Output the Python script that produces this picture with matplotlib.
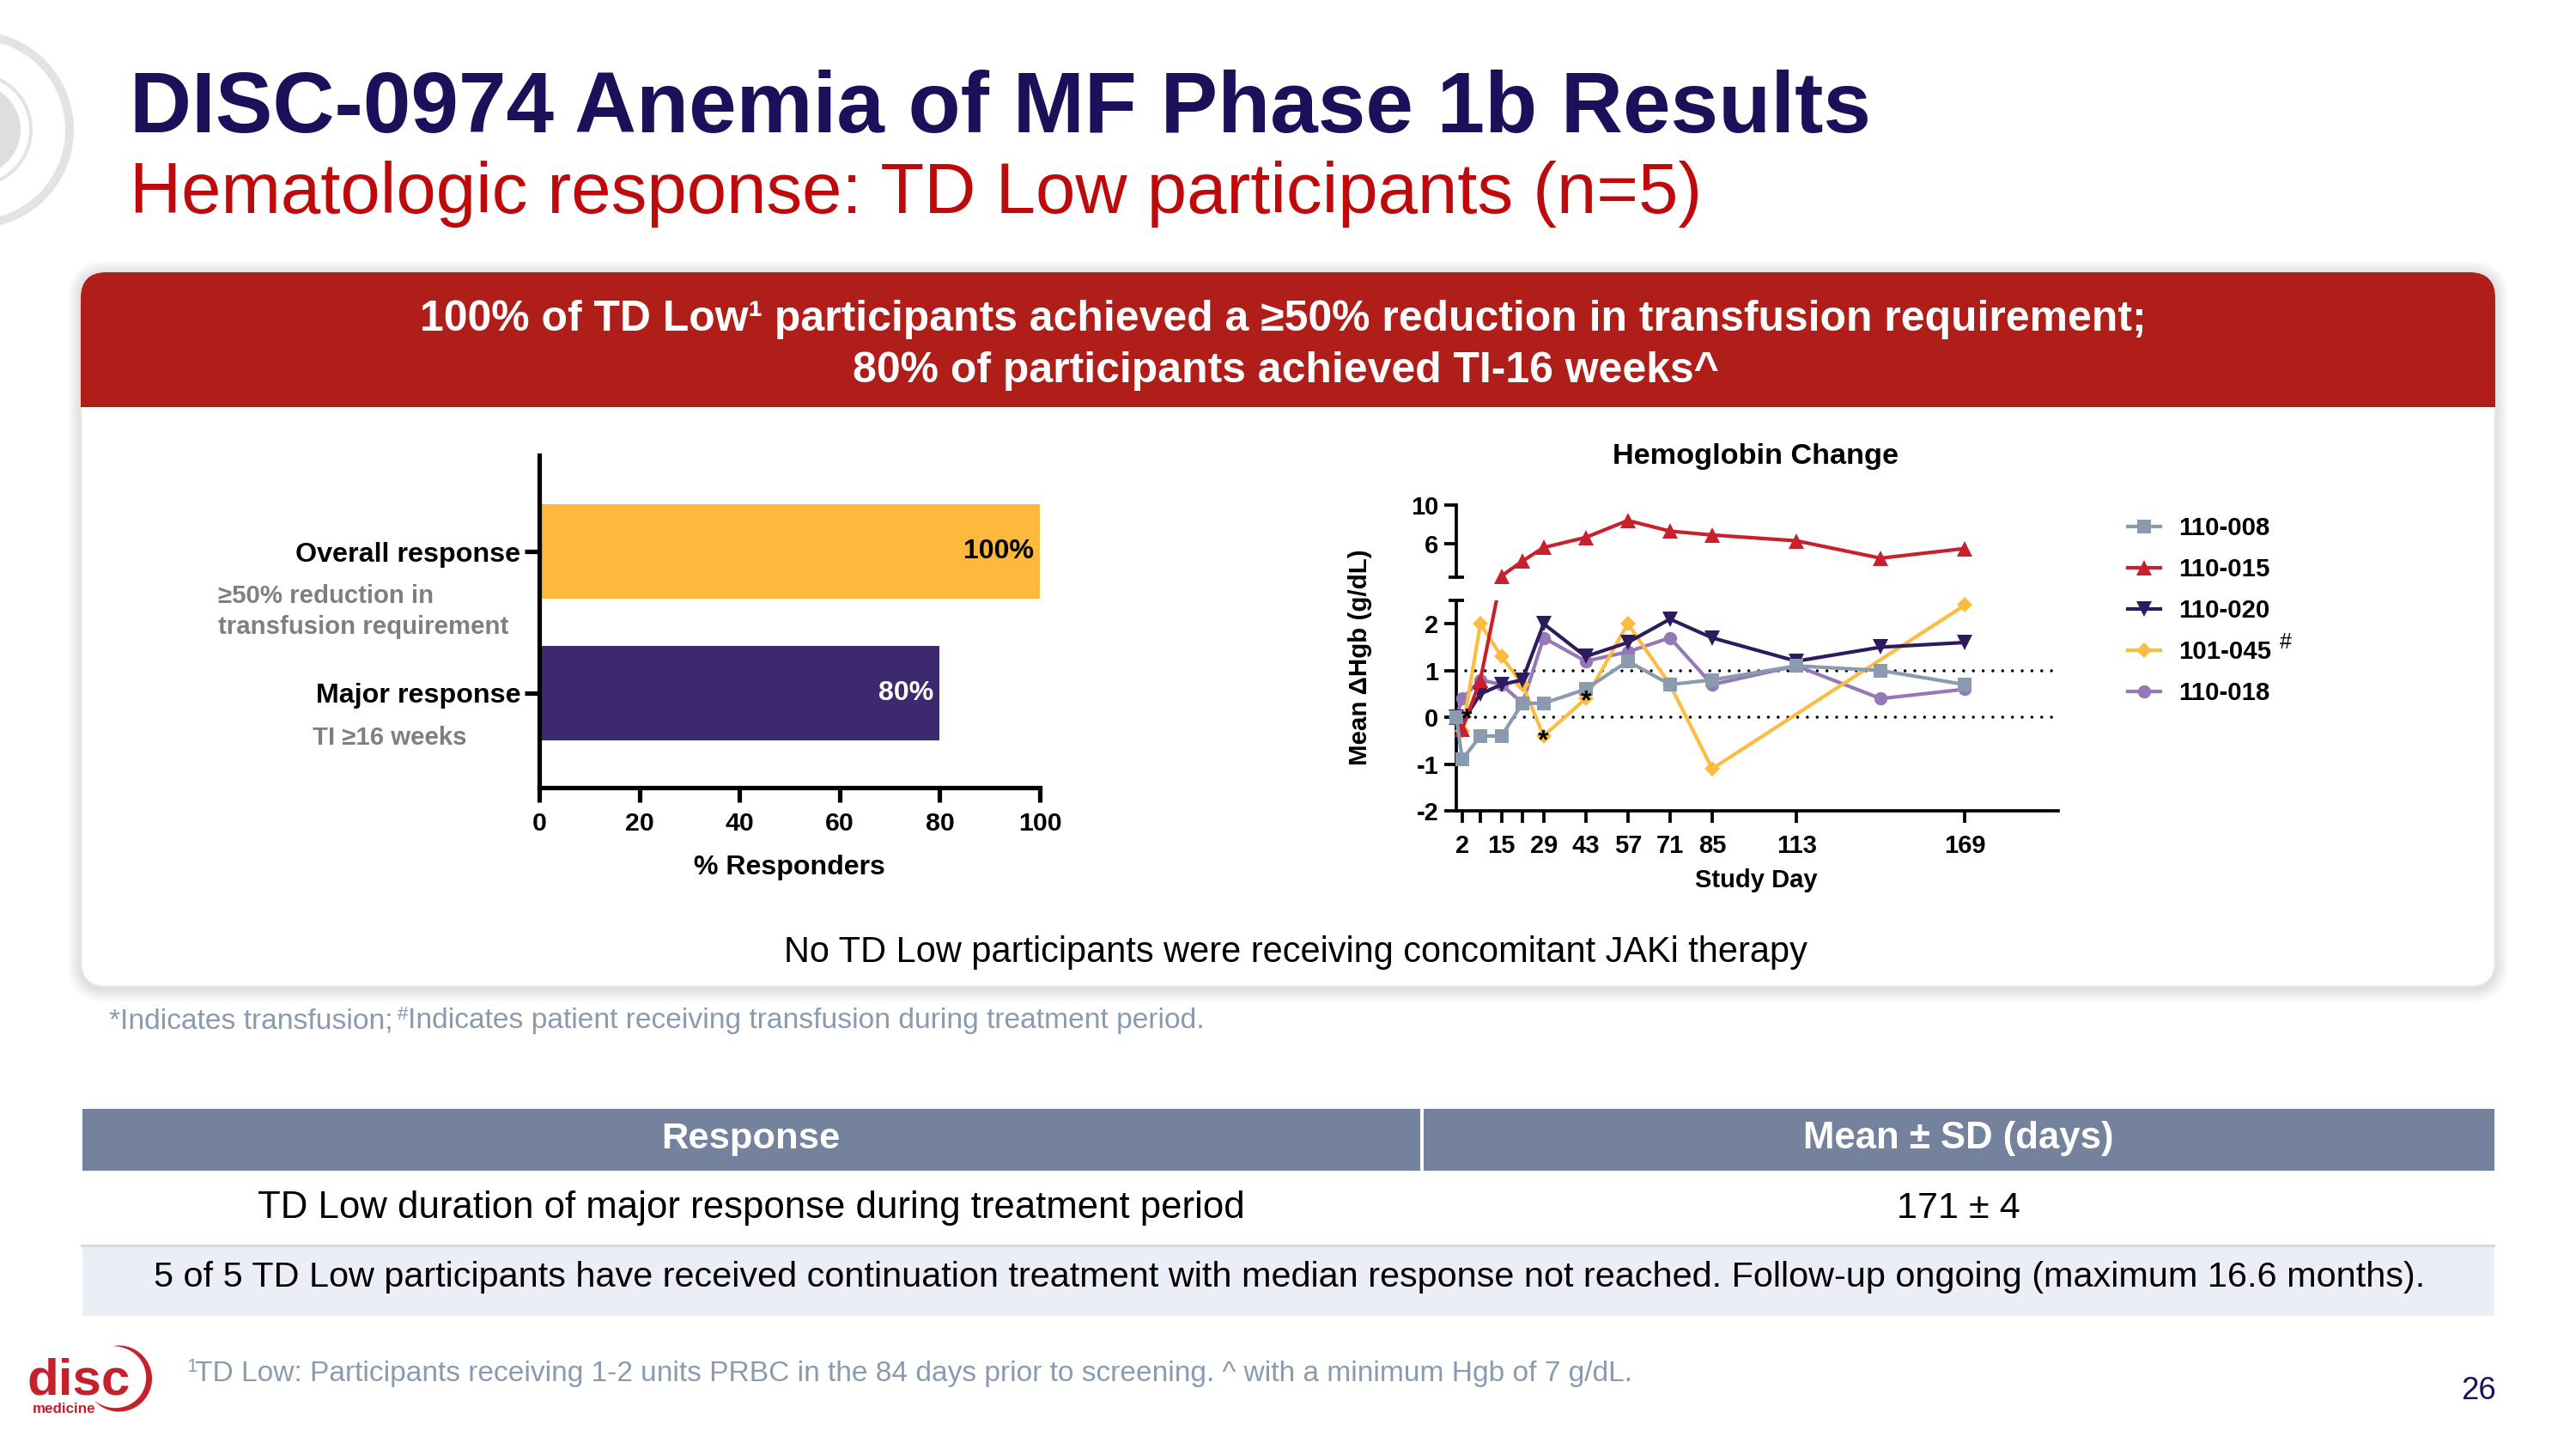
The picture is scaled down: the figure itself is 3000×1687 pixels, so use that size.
import numpy as np
import matplotlib
matplotlib.use("Agg")
import matplotlib.pyplot as plt
from matplotlib.patches import FancyBboxPatch, Rectangle, Circle, Polygon
from matplotlib.lines import Line2D

plt.rcParams['font.family'] = ['Liberation Sans', 'DejaVu Sans']

# ---------- data ----------
bar_categories = ["Overall response", "Major response"]
bar_values = [100, 80]
bar_labels = ["100%", "80%"]
bar_ticks = [0, 20, 40, 60, 80, 100]

day_ticks = [2, 8, 15, 22, 29, 43, 57, 71, 85, 113, 169]
day_tick_labels = ["2", "", "15", "", "29", "43", "57", "71", "85", "113", "169"]
all_days = [0, 2, 8, 15, 22, 29, 43, 57, 71, 85, 113, 141, 169]

hgb_008 = [0, -0.9, -0.4, -0.4, 0.3, 0.3, 0.6, 1.2, 0.7, 0.8, 1.1, 1.0, 0.7]
hgb_020 = [0, -0.1, 0.5, 0.7, 0.8, 2.0, 1.3, 1.6, 2.1, 1.7, 1.2, 1.5, 1.6]
hgb_018 = [0, 0.4, 0.8, 0.7, 0.3, 1.7, 1.2, 1.4, 1.7, 0.7, 1.1, 0.4, 0.6]
days_045 = [0, 2, 8, 15, 22, 29, 43, 57, 71, 85, 169]
hgb_045 = [0, -0.3, 2.0, 1.3, 0.7, -0.4, 0.4, 2.0, 0.7, -1.1, 2.4]
days_015_low = [0, 2, 8]
hgb_015_low = [0, -0.25, 0.8]
days_015_high = [15, 22, 29, 43, 57, 71, 85, 113, 141, 169]
hgb_015_high = [2.65, 4.2, 5.6, 6.65, 8.4, 7.3, 6.9, 6.3, 4.5, 5.5]
transfusion_days = [3.5, 29, 43]
transfusion_values = [0.05, -0.4, 0.45]

# ---------- colours ----------
GRAY, RED, NAVY, YEL, PUR = '#8A9BB0', '#C8202C', '#2E1A5E', '#FDBB3F', '#9678B6'

W, H = 3000, 1687
fig = plt.figure(figsize=(W / 300, H / 300), dpi=300, facecolor='white')


def px_axes(x0, y0, x1, y1, **kw):
    return fig.add_axes([x0 / W, 1 - y1 / H, (x1 - x0) / W, (y1 - y0) / H], **kw)


# ---------- slide background, in pixel coordinates ----------
bg = fig.add_axes([0, 0, 1, 1], zorder=0)
bg.set_xlim(0, W)
bg.set_ylim(H, 0)
bg.axis('off')


def T(x, y, s, size, color='black', weight='normal', ha='left', va='baseline', **kw):
    return bg.text(x, y, s, fontsize=size, color=color, fontweight=weight, ha=ha, va=va, **kw)


# corner rings
for r, w in ((110, 10), (65, 4)):
    bg.add_patch(Circle((-29, 151), r, fc='none', ec='#E3E3E3', lw=w * 0.24))
bg.add_patch(Circle((-29, 151), 53, fc='#DEDEDE', ec='none'))

T(151, 154, "DISC-0974 Anemia of MF Phase 1b Results", 23.99, '#1E0F5A', 'bold')
T(151, 248, "Hematologic response: TD Low participants (n=5)", 20.0, '#BE0A0A')

# card with soft shadow
cx0, cx1, cy0, cy1 = 94, 2906, 317, 1149
for i in range(16, 0, -1):
    bg.add_patch(FancyBboxPatch((cx0 - i, cy0 - i + 2), cx1 - cx0 + 2 * i, cy1 - cy0 + 2 * i,
                                boxstyle=f"round,pad=0,rounding_size={30 + i}",
                                fc='black', ec='none', alpha=0.009))
bg.add_patch(FancyBboxPatch((cx0, cy0), cx1 - cx0, cy1 - cy0,
                            boxstyle="round,pad=0,rounding_size=30", fc='white', ec='#E6E6E6', lw=0.6))
banner = FancyBboxPatch((cx0, cy0), cx1 - cx0, 300,
                        boxstyle="round,pad=0,rounding_size=30", fc='#B01E19', ec='none')
bg.add_patch(banner)
banner.set_clip_path(Rectangle((cx0 - 5, cy0 - 5), cx1 - cx0 + 10, 474 - cy0 + 5, transform=bg.transData))

T(1494, 385, "100% of TD Low¹ participants achieved a ≥50% reduction in transfusion requirement;", 11.98,
  'white', 'bold', ha='center')
T(1497, 445, "80% of participants achieved TI-16 weeks^", 11.98, 'white', 'bold', ha='center')

T(1509, 1120, "No TD Low participants were receiving concomitant JAKi therapy", 9.97, ha='center')

FOOT = '#8A9BB0'
T(126, 1197, "*", 8.08, FOOT)
T(140, 1197, "Indicates transfusion;", 8.08, FOOT)
T(463, 1187, "#", 5.4, FOOT)
T(475, 1197, "Indicates patient receiving transfusion during treatment period.", 8.08, FOOT)

# table
bg.add_patch(Rectangle((96, 1291), 2905 - 96, 72, fc='#75829E', ec='none'))
bg.add_patch(Rectangle((1654, 1291), 4, 72, fc='white', ec='none'))
bg.add_patch(Rectangle((96, 1451), 2905 - 96, 81, fc='#EBEEF6', ec='none'))
bg.add_patch(Rectangle((94, 1449), 2906 - 94, 3, fc='#D9D9D9', ec='none'))
T(874, 1337, "Response", 10.45, 'white', 'bold', ha='center')
T(2281, 1337, "Mean ± SD (days)", 10.5, 'white', 'bold', ha='center')
T(875, 1418, "TD Low duration of major response during treatment period", 10.5, ha='center')
T(2281, 1418, "171 ± 4", 10.4, ha='center')
T(1502, 1498, "5 of 5 TD Low participants have received continuation treatment with median response not reached. "
              "Follow-up ongoing (maximum 16.6 months).", 9.93, ha='center')

# footer
T(217, 1597, "1", 5.4, FOOT)
T(227, 1608, "TD Low: Participants receiving 1-2 units PRBC in the 84 days prior to screening. ^ with a minimum Hgb of 7 g/dL.",
  8.04, FOOT)
T(2907, 1629, "26", 8.8, '#1E0F5A', ha='right')

# logo
LOGO = '#C4212D'
T(32, 1623, "disc", 14.4, LOGO, 'bold')
T(38, 1645, "medicine", 4.1, LOGO, 'bold')
th = np.radians(np.linspace(100, -137, 80))
taper = np.sin(np.linspace(0, np.pi, 80)) ** 0.8
outer = np.c_[138.5 + 38.5 * np.cos(th), 1605 - 38.5 * np.sin(th)]
inner = np.c_[138.5 + (38.5 - 7 * taper) * np.cos(th), 1605 - (38.5 - 7 * taper) * np.sin(th)]
bg.add_patch(Polygon(np.r_[outer, inner[::-1]], closed=True, fc=LOGO, ec='none'))

# ---------- bar chart ----------
ax = px_axes(628, 530, 1211, 917, zorder=2)
ax.patch.set_alpha(0)
ypos = [1, 0]
ax.barh(ypos, bar_values, height=0.665, color=['#FDB93C', '#3D2A6E'], zorder=1)
ax.set_xlim(0, 100)
ax.set_ylim(-0.667, 1.679)
for s in ('top', 'right'):
    ax.spines[s].set_visible(False)
for s in ('left', 'bottom'):
    ax.spines[s].set_linewidth(1.25)
    ax.spines[s].set_zorder(5)
ax.set_xticks(bar_ticks)
ax.set_yticks(ypos)
ax.set_yticklabels(bar_categories, fontweight='bold', fontsize=7.75)
ax.set_xticklabels([str(t) for t in bar_ticks], fontweight='bold', fontsize=7.3)
ax.tick_params(axis='both', width=1.25, length=4)
ax.tick_params(axis='y', pad=1.2)
ax.tick_params(axis='x', pad=2.8)
ax.set_xlabel("% Responders", fontweight='bold', fontsize=7.73, labelpad=5.2)
for v, lab, y, c in zip(bar_values, bar_labels, ypos, ['black', 'white']):
    ax.annotate(lab, (v, y), xytext=(-1.7, 0), textcoords='offset points', ha='right', va='center',
                fontsize=7.7, fontweight='bold', color=c)
SUB = '#7F7F7F'
T(254, 702, "≥50% reduction in", 7.05, SUB, 'bold')
T(254, 738, "transfusion requirement", 7.05, SUB, 'bold')
T(454, 867, "TI ≥16 weeks", 7.05, SUB, 'bold', ha='center')

# ---------- hemoglobin chart: broken y axis ----------
low = px_axes(1696, 699, 2397, 944, zorder=3)
up = px_axes(1696, 588, 2397, 672, zorder=3)
for a in (low, up):
    a.patch.set_alpha(0)
    a.set_xlim(0, 200)
    for s in ('top', 'right'):
        a.spines[s].set_visible(False)
    a.spines['left'].set_linewidth(0.9)
    a.spines['bottom'].set_linewidth(0.9)
    a.tick_params(axis='both', width=0.9, length=3.4, labelsize=7.0, pad=1.5)
low.set_ylim(-2, 2.5)
up.set_ylim(2.53, 10)
up.spines['bottom'].set_visible(False)
up.set_xticks([])
up.set_yticks([6, 10])
up.set_yticklabels(['6', '10'], fontweight='bold')
low.set_yticks([-2, -1, 0, 1, 2])
low.set_yticklabels(['-2', '-1', '0', '1', '2'], fontweight='bold')
low.set_xticks(day_ticks)
low.set_xticklabels(day_tick_labels, fontweight='bold')
low.tick_params(axis='x', pad=3.0)
# two-sided end caps where the axis is broken
low.plot([-2.5, 2.5], [2.5, 2.5], color='black', lw=0.9, clip_on=False, solid_capstyle='butt')
up.plot([-2.5, 2.5], [2.53, 2.53], color='black', lw=0.9, clip_on=False, solid_capstyle='butt')

for y0 in (0, 1):
    low.plot([3, 198.5], [y0, y0], color='black', lw=0.85, ls=(0, (0.01, 3.2)),
             dash_capstyle='round', zorder=2, clip_on=False)

LW = 1.0
style = dict(lw=LW, clip_on=False)
ln_pur, = low.plot(all_days, hgb_018, color=PUR, marker='o', ms=3.7, mec='none', zorder=3, **style)
ln_yel, = low.plot(days_045, hgb_045, color=YEL, marker='D', ms=3.0, mec='none', zorder=3.1, **style)
ln_nav, = low.plot(all_days, hgb_020, color=NAVY, marker='v', ms=4.2, mec='none', zorder=3.2, **style)
# red series crosses the break as a straight line: the day-15 point is mapped to the lower panel
p = up.transData.transform((days_015_high[0], hgb_015_high[0]))
d15, v15 = low.transData.inverted().transform(p)
ln_red_low, = low.plot(days_015_low + [d15], hgb_015_low + [v15], color=RED, marker='^', ms=4.2, mec='none',
                       markevery=[0, 1, 2], zorder=3.3, lw=LW)
ln_red_low.set_clip_path(Rectangle((-0.1, 0), 1.2, 1, transform=low.transAxes))
ln_red, = up.plot(days_015_high, hgb_015_high, color=RED, marker='^', ms=4.2, mec='none', zorder=3.3, **style)
ln_gra, = low.plot(all_days, hgb_008, color=GRAY, marker='s', ms=3.9, mec='none', zorder=3.4, **style)

for d, v in zip(transfusion_days, transfusion_values):
    low.annotate('*', (d, v), xytext=(0, -3.4), textcoords='offset points', ha='center', va='baseline',
                 fontsize=7.7, fontweight='bold', color='black', zorder=6)

T(2044, 540, "Hemoglobin Change", 8.24, 'black', 'bold', ha='center')
T(2045, 1033, "Study Day", 7.0, 'black', 'bold', ha='center')
T(1584, 765, "Mean ΔHgb (g/dL)", 7.1, 'black', 'bold', ha='center', va='center', rotation=90)

leg = fig.legend([ln_gra, ln_red, ln_nav, ln_yel, ln_pur],
                 ["110-008", "110-015", "110-020", "101-045", "110-018"],
                 loc='upper left', bbox_to_anchor=(2478 / W, 1 - 601 / H), frameon=False,
                 prop={'size': 7.05, 'weight': 'bold'}, handlelength=1.3, handletextpad=0.72,
                 labelspacing=0.685, borderpad=0, borderaxespad=0, numpoints=1)
T(2655, 755, "#", 6.0)

fig.savefig("out.png", dpi=300)
